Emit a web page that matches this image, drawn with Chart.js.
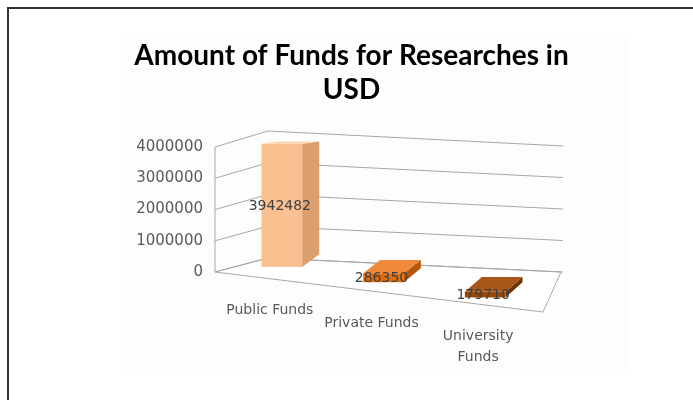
<!DOCTYPE html>
<html>
<head>
<meta charset="utf-8">
<script src="https://cdn.jsdelivr.net/npm/chart.js@4/dist/chart.umd.min.js"></script>
<style>
html,body{margin:0;padding:0;background:#fff;}
#wrap{width:693px;height:400px;position:relative;overflow:hidden;}
canvas{display:block;}
</style>
</head>
<body>
<div id="wrap"><canvas id="c" width="693" height="400"></canvas></div>
<script>
// ---- data ----
const categories = [['Public Funds'], ['Private Funds'], ['University', 'Funds']];
const fundsUSD = [3942482, 286350, 179710];
const yTickValues = [0, 1000000, 2000000, 3000000, 4000000];
const titleLines = ['Amount of Funds for Researches in', 'USD'];

// ---- styling ----
const palette = {
  front: ['#FAC090', '#E46C0A', '#984807'],
  side:  ['#DA9F6C', '#B5560A', '#6E3405'],
  top:   ['#FCD5B4', '#F08A3A', '#A9561A'],
  grid:  '#a8a8a8',
  tick:  '#595959',
  label: '#404040'
};

function poly(ctx, pts, color) {
  ctx.beginPath();
  ctx.moveTo(pts[0][0], pts[0][1]);
  for (let k = 1; k < pts.length; k++) ctx.lineTo(pts[k][0], pts[k][1]);
  ctx.closePath();
  ctx.fillStyle = color;
  ctx.fill();
}

const threeD = {
  id: 'threeD',
  beforeDraw(chart) {
    const ctx = chart.ctx;
    ctx.save();
    ctx.fillStyle = '#ffffff';
    ctx.fillRect(0, 0, chart.width, chart.height);
    ctx.fillStyle = '#fdfdfd';
    ctx.fillRect(122, 33, 506, 342);
    ctx.strokeStyle = '#333333';
    ctx.lineWidth = 2;
    ctx.strokeRect(8, 8, 720, 440);
    ctx.restore();
  },
  beforeDatasetsDraw(chart) {
    const {ctx, chartArea: a, scales: {y}} = chart;
    const fx = a.left - 16, bx = a.left + 37, rx = a.right + 25;
    const span = a.bottom - a.top;
    ctx.save();
    ctx.lineWidth = 1;
    ctx.strokeStyle = palette.grid;
    // floor
    ctx.beginPath();
    ctx.moveTo(fx, a.bottom);
    ctx.lineTo(bx, a.bottom - 14);
    ctx.lineTo(rx, a.bottom);
    ctx.lineTo(a.right + 7, a.bottom + 40);
    ctx.closePath();
    ctx.fillStyle = '#ffffff';
    ctx.fill();
    ctx.stroke();
    // front-left wall edge
    const yTop = y.getPixelForValue(yTickValues[yTickValues.length - 1]);
    const yBot = y.getPixelForValue(0);
    ctx.beginPath();
    ctx.moveTo(fx, yTop); ctx.lineTo(fx, yBot);
    ctx.stroke();
    // gridlines on side wall and back wall
    yTickValues.forEach(v => {
      const yf = y.getPixelForValue(v);
      const r = (yf - a.top) / span;
      const yb = yf - 16 + 2 * r;
      const yr = yb + 15 - r;
      ctx.beginPath();
      ctx.moveTo(fx, yf);
      ctx.lineTo(bx, yb);
      ctx.lineTo(rx + 2, yr);
      ctx.stroke();
    });
    ctx.restore();
  },
  afterDatasetsDraw(chart) {
    const {ctx, chartArea: a, scales: {y}} = chart;
    const meta = chart.getDatasetMeta(0);
    const zeroY = y.getPixelForValue(0);
    const depthX = 17;
    const depthY = yy => -2 - (yy - (a.top - 5)) * 0.085;
    ctx.save();
    meta.data.forEach((el, i) => {
      const x = el.x, w = el.width;
      const h = zeroY - y.getPixelForValue(fundsUSD[i]);
      const base = a.bottom - 5 + (x - (a.left + 51)) * 0.15;
      const top = base - h;
      const xl = x - w / 2, xr = x + w / 2;
      const dt = depthY(top), db = depthY(base);
      poly(ctx, [[xr, top], [xr + depthX, top + dt], [xr + depthX, base + db], [xr, base]], palette.side[i]);
      poly(ctx, [[xl, top], [xl + depthX, top + dt], [xr + depthX, top + dt], [xr, top]], palette.top[i]);
      ctx.fillStyle = palette.front[i];
      ctx.fillRect(xl, top, w, h);
      // data label
      ctx.fillStyle = palette.label;
      ctx.font = '14px "DejaVu Sans"';
      ctx.textAlign = 'center';
      ctx.textBaseline = 'middle';
      ctx.fillText(String(fundsUSD[i]), x - 2, (top + base) / 2 + 1);
      // category label along the floor front edge
      ctx.fillStyle = palette.tick;
      const lines = categories[i];
      const lx = x - 12 + (i === lines.length - 1 ? 0 : 0);
      const ly = a.bottom + 38 + (x - (a.left + 51)) * 0.128;
      lines.forEach((t, k) => ctx.fillText(t, lx + (lines.length > 1 ? 5 : 0), ly + k * 21));
    });
    ctx.restore();
  }
};

new Chart(document.getElementById('c'), {
  type: 'bar',
  data: {
    labels: categories,
    datasets: [{
      data: fundsUSD,
      backgroundColor: 'rgba(0,0,0,0)',
      borderWidth: 0,
      barPercentage: 0.4,
      categoryPercentage: 1.0,
      yAxisID: 'y'
    }]
  },
  options: {
    responsive: false,
    animation: false,
    devicePixelRatio: 1,
    layout: {padding: {left: 10, right: 0, top: 0, bottom: 128}},
    plugins: {
      legend: {display: false},
      tooltip: {enabled: false},
      title: {
        display: true,
        text: titleLines,
        color: '#000000',
        font: {family: 'Lato', size: 28, weight: 'bold', lineHeight: 34 / 28},
        padding: {top: 39, bottom: 40}
      }
    },
    scales: {
      x: {display: false, offset: true},
      y: {
        position: 'left',
        min: 0,
        max: 4000000,
        grid: {display: false, drawTicks: false},
        border: {display: false},
        afterBuildTicks: s => { s.ticks = yTickValues.map(v => ({value: v})); },
        afterFit: s => { s.width = 221; },
        ticks: {
          padding: 28,
          color: palette.tick,
          font: {family: 'DejaVu Sans', size: 15},
          callback: v => String(v)
        }
      },
      y2: {
        position: 'right',
        display: true,
        grid: {display: false, drawTicks: false},
        border: {display: false},
        ticks: {display: false},
        afterFit: s => { s.width = 157; }
      }
    }
  },
  plugins: [threeD]
});
</script>
</body>
</html>
